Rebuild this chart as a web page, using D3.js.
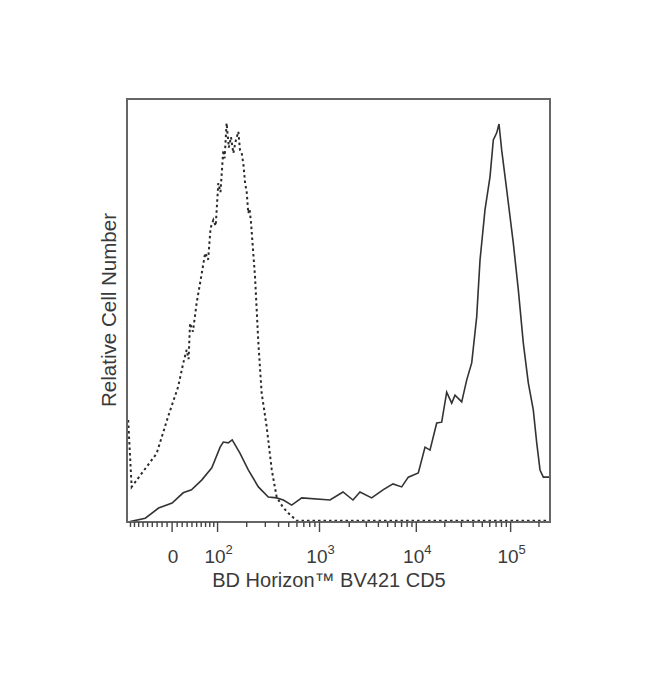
<!DOCTYPE html>
<meta charset="utf-8">
<style>
body { margin: 0; background: #fff; }
text { font-family: "Liberation Sans", Arial, sans-serif; fill: #3a3a3a; }
.frame { fill: none; stroke: #666; stroke-width: 2; }
.tick line { stroke: #444; stroke-width: 1.4; }
</style>
<svg width="650" height="685"></svg>
<script src="https://d3js.org/d3.v7.min.js"></script>
<script>
// isotype control (dashed)
var isoIntensity = [-96, -87, -31, -8, 12, 22, 29, 33, 36, 42, 50, 60, 69, 76, 82, 89, 95, 102, 108, 116, 120, 126,
  133, 140, 148, 156, 166, 172, 179, 186, 193, 200, 207, 213, 220, 240, 258, 277, 309, 345, 384, 440, 495, 597,
  1000, 10000, 100000, 262000];
var isoCount = [24.1, 8.3, 16.2, 24.9, 32.0, 37.5, 40.7, 38.5, 47.0, 45.0, 51.8, 58.0, 63.6, 62.0, 69.5, 71.4, 70.0, 80.1, 78.0, 87.9, 86.0, 94.3,
  88.5, 91.0, 87.2, 90.0, 92.3, 88.0, 87.2, 84.5, 80.1, 78.0, 73.0, 74.0, 70.7, 57.9, 42.3, 30.5, 22.5, 12.3, 5.9, 3.5, 2.1, 0.3,
  0.3, 0.3, 0.3, 0.3];

// BV421 CD5 (solid)
var cd5Intensity = [-91, -55, -27, 0, 22, 39, 61, 85, 107, 116, 131, 144, 172, 207, 258, 320, 384, 444, 534, 668,
  1274, 1725, 2183, 2577, 3408, 4470, 5686, 7017, 8235, 10500, 12360, 13950, 16430, 18550, 20950, 23680, 25670,
  30230, 34180, 38600, 43600, 47280, 53400, 60370, 65460, 71130, 75230, 80360, 90860, 106700, 120800, 136400,
  154100, 174100, 189400, 205300, 222600, 251500, 262000];
var cd5Count = [0.1, 0.9, 3.3, 4.5, 6.9, 7.6, 9.9, 12.8, 17.7, 18.9, 18.7, 19.4, 16.3, 12.3, 8.3, 5.9, 5.7, 5.2, 4.0, 5.7,
  5.2, 7.1, 5.2, 7.1, 5.7, 7.6, 9.0, 8.3, 10.6, 11.6, 17.7, 17.0, 23.4, 23.6, 30.7, 28.1, 30.0,
  28.4, 33.6, 37.6, 48.5, 61.9, 73.8, 81.6, 90.3, 92.0, 94.1, 87.9, 78.5, 66.0, 54.8, 42.3,
  32.9, 26.5, 18.7, 12.3, 10.6, 10.6, 10.6];

var majorTicks = [0, 1e2, 1e3, 1e4, 1e5];
var majorLabels = [["0", ""], ["10", "2"], ["10", "3"], ["10", "4"], ["10", "5"]];
var minorTicks = [-90, -80, -70, -60, -50, -40, -30, -20, -10, 10, 20, 30, 40, 50, 60, 70, 80, 90,
  200, 300, 400, 500, 600, 700, 800, 900, 2000, 3000, 4000, 5000, 6000, 7000, 8000, 9000,
  20000, 30000, 40000, 50000, 60000, 70000, 80000, 90000, 200000];

// logicle transform (T, W, M, A)
function logicle(T, W, M, A) {
  var w = W / (M + A), x2 = A / (M + A), x1 = x2 + w, x0 = x2 + 2 * w, b = (M + A) * Math.LN10;
  var lo = 1e-6, hi = b, d;
  for (var i = 0; i < 80; i++) {
    d = (lo + hi) / 2;
    if (2 * (Math.log(d) - Math.log(b)) + w * (b + d) > 0) hi = d; else lo = d;
  }
  var ca = Math.exp(x0 * (b + d)),
      mfa = Math.exp(b * x1) - ca / Math.exp(d * x1),
      a = T / ((Math.exp(b) - mfa) - ca / Math.exp(d)),
      c = ca * a, f = -mfa * a;
  function S(y) {
    if (y < x1) return -S(2 * x1 - y);
    return a * Math.exp(b * y) - c * Math.exp(-d * y) + f;
  }
  return function(v) {
    var l = -1, h = 1.5;
    for (var j = 0; j < 60; j++) {
      var m = (l + h) / 2;
      if (S(m) < v) l = m; else h = m;
    }
    return (l + h) / 2;
  };
}

var svg = d3.select("svg"),
    x0 = 127, x1 = 550, y0 = 99, y1 = 522;

var lg = logicle(262144, 0.48, 4.5, 0);
var xPos = d3.scaleLinear().domain([0, 1]).range([x0, x1]);
var x = function(v) { return xPos(lg(v)); };
var y = d3.scaleLinear().domain([0, 100]).range([y1, y0]);

svg.append("clipPath").attr("id", "clip")
  .append("rect").attr("x", x0).attr("y", y0).attr("width", x1 - x0).attr("height", y1 - y0);

var line = d3.line()
    .x(function(d) { return x(d[0]); })
    .y(function(d) { return y(d[1]); });

var iso = d3.zip(isoIntensity, isoCount),
    cd5 = d3.zip(cd5Intensity, cd5Count);

var plot = svg.append("g").attr("clip-path", "url(#clip)");

plot.append("path")
    .datum(iso)
    .attr("d", line)
    .attr("fill", "none")
    .attr("stroke", "#2a2a2a")
    .attr("stroke-width", 2)
    .attr("stroke-dasharray", "2.5,3");

plot.append("path")
    .datum(cd5)
    .attr("d", line)
    .attr("fill", "none")
    .attr("stroke", "#333")
    .attr("stroke-width", 1.6);

svg.append("rect")
    .attr("class", "frame")
    .attr("x", x0).attr("y", y0)
    .attr("width", x1 - x0).attr("height", y1 - y0);

var ticks = svg.append("g").attr("class", "tick");
ticks.selectAll("line.minor")
  .data(minorTicks)
  .enter().append("line")
    .attr("class", "minor")
    .attr("x1", x).attr("x2", x)
    .attr("y1", y1).attr("y2", y1 + 5);
ticks.selectAll("line.major")
  .data(majorTicks)
  .enter().append("line")
    .attr("class", "major")
    .attr("x1", x).attr("x2", x)
    .attr("y1", y1).attr("y2", y1 + 10);

var lab = svg.append("g").selectAll("text")
  .data(majorTicks)
  .enter().append("text")
    .attr("x", function(d) { return x(d) + 1; })
    .attr("y", 563)
    .attr("text-anchor", "middle")
    .style("font-size", "19px");
lab.append("tspan").text(function(d, i) { return majorLabels[i][0]; });
lab.append("tspan")
    .attr("dy", -9)
    .style("font-size", "13px")
    .text(function(d, i) { return majorLabels[i][1]; });

svg.append("text")
    .attr("x", 329)
    .attr("y", 587)
    .attr("text-anchor", "middle")
    .style("font-size", "20px")
    .text("BD Horizon\u2122 BV421 CD5");

svg.append("text")
    .attr("transform", "translate(116,310) rotate(-90)")
    .attr("text-anchor", "middle")
    .style("font-size", "20px")
    .attr("textLength", 194)
    .attr("lengthAdjust", "spacingAndGlyphs")
    .text("Relative Cell Number");
</script>
